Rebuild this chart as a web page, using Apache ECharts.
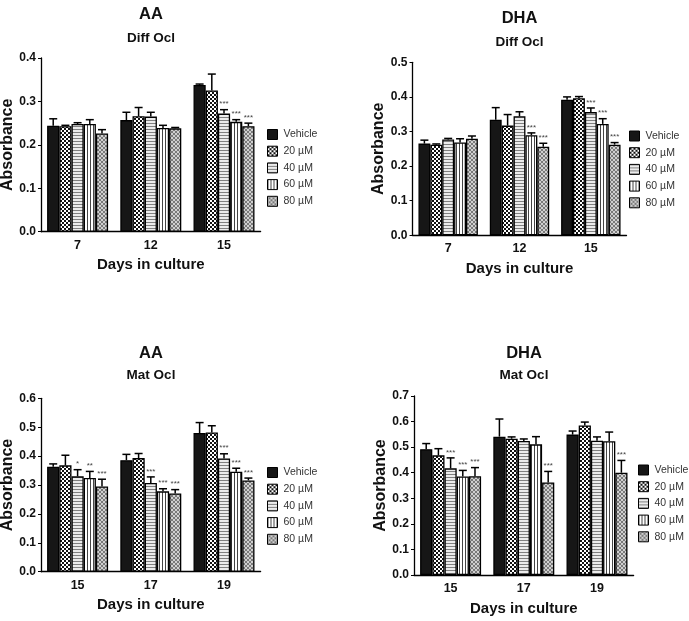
<!DOCTYPE html>
<html><head><meta charset="utf-8">
<script src="https://cdn.jsdelivr.net/npm/echarts@6/dist/echarts.min.js"></script>
<style>html,body{margin:0;padding:0;background:#fff}#c{width:689px;height:621px}</style>
</head><body><div id="c"></div>
<script>
// ---------- data ----------
const seriesNames = ['Vehicle', '20 µM', '40 µM', '60 µM', '80 µM'];
const diffDays = ['7', '12', '15'];
const matDays = ['15', '17', '19'];
const aaDiffTicks = [0, 0.1, 0.2, 0.3, 0.4];
const dhaDiffTicks = [0, 0.1, 0.2, 0.3, 0.4, 0.5];
const aaMatTicks = [0, 0.1, 0.2, 0.3, 0.4, 0.5, 0.6];
const dhaMatTicks = [0, 0.1, 0.2, 0.3, 0.4, 0.5, 0.6, 0.7];

// rows: Vehicle, 20, 40, 60, 80 µM ; columns: days
const aaDiffMean = [
  [0.244, 0.257, 0.338],
  [0.243, 0.266, 0.325],
  [0.248, 0.265, 0.272],
  [0.248, 0.239, 0.253],
  [0.226, 0.238, 0.243]];
const aaDiffSem = [
  [0.016, 0.018, 0.002],
  [0.002, 0.020, 0.038],
  [0.003, 0.010, 0.009],
  [0.010, 0.006, 0.005],
  [0.009, 0.002, 0.007]];
const aaDiffStars = [
  ['', '', ''], ['', '', ''], ['', '', '***'], ['', '', '***'], ['', '', '***']];

const dhaDiffMean = [
  [0.265, 0.334, 0.392],
  [0.262, 0.317, 0.396],
  [0.277, 0.344, 0.356],
  [0.268, 0.289, 0.322],
  [0.279, 0.256, 0.262]];
const dhaDiffSem = [
  [0.010, 0.035, 0.008],
  [0.002, 0.032, 0.005],
  [0.003, 0.013, 0.012],
  [0.011, 0.007, 0.015],
  [0.008, 0.010, 0.006]];
const dhaDiffStars = [
  ['', '', ''], ['', '', ''], ['', '', '***'], ['', '***', '***'], ['', '***', '***']];

const aaMatMean = [
  [0.363, 0.386, 0.480],
  [0.368, 0.393, 0.482],
  [0.330, 0.307, 0.392],
  [0.324, 0.278, 0.346],
  [0.295, 0.271, 0.316]];
const aaMatSem = [
  [0.010, 0.020, 0.036],
  [0.035, 0.016, 0.023],
  [0.023, 0.021, 0.016],
  [0.023, 0.009, 0.012],
  [0.025, 0.013, 0.008]];
const aaMatStars = [
  ['', '', ''], ['', '', ''], ['*', '***', '***'], ['**', '***', '***'], ['***', '***', '***']];

const dhaMatMean = [
  [0.492, 0.541, 0.549],
  [0.468, 0.533, 0.585],
  [0.417, 0.524, 0.525],
  [0.385, 0.511, 0.523],
  [0.386, 0.362, 0.400]];
const dhaMatSem = [
  [0.022, 0.069, 0.014],
  [0.026, 0.007, 0.013],
  [0.041, 0.008, 0.015],
  [0.024, 0.030, 0.036],
  [0.034, 0.043, 0.048]];
const dhaMatStars = [
  ['', '', ''], ['', '', ''], ['***', '', ''], ['***', '', ''], ['***', '***', '***']];

// ---------- styles ----------
const FONT = '"Liberation Sans", Arial, sans-serif';
function pat(w, h, draw) {
  const c = document.createElement('canvas'); c.width = w; c.height = h;
  const g = c.getContext('2d'); draw(g);
  return { image: c, repeat: 'repeat' };
}
const fills = [
  '#161616',
  pat(4, 4, g => { g.fillStyle = '#fff'; g.fillRect(0, 0, 4, 4); g.fillStyle = '#111'; g.fillRect(0, 0, 2, 2); g.fillRect(2, 2, 2, 2); }),
  pat(1, 3, g => { g.fillStyle = '#ececec'; g.fillRect(0, 0, 1, 3); g.fillStyle = '#808080'; g.fillRect(0, 0, 1, 1); }),
  pat(3, 1, g => { g.fillStyle = '#fff'; g.fillRect(0, 0, 3, 1); g.fillStyle = '#444'; g.fillRect(0, 0, 1, 1); }),
  pat(4, 4, g => { g.fillStyle = '#d0d0d0'; g.fillRect(0, 0, 4, 4); g.fillStyle = '#7a7a7a'; for (let i = 0; i < 4; i++) { g.fillRect(i, i, 1, 1); g.fillRect(i, 3 - i, 1, 1); } })
];

const GAP = 0.167;
const panels = [
  { mean: aaDiffMean, sem: aaDiffSem, stars: aaDiffStars, cats: diffDays, ticks: aaDiffTicks, title: 'AA', sub: 'Diff Ocl',
    grid: { left: 41, top: 58, width: 219.6, height: 173.7 }, legend: { left: 267, top: 129 }, tTop: 6, sTop: 31, cx: 151 },
  { mean: dhaDiffMean, sem: dhaDiffSem, stars: dhaDiffStars, cats: diffDays, ticks: dhaDiffTicks, title: 'DHA', sub: 'Diff Ocl',
    grid: { left: 412.5, top: 62.3, width: 214, height: 173 }, legend: { left: 629, top: 130.5 }, tTop: 10, sTop: 35, cx: 519.5 },
  { mean: aaMatMean, sem: aaMatSem, stars: aaMatStars, cats: matDays, ticks: aaMatTicks, title: 'AA', sub: 'Mat Ocl',
    grid: { left: 41, top: 398.3, width: 219.6, height: 173.4 }, legend: { left: 267, top: 467 }, tTop: 345, sTop: 368, cx: 151 },
  { mean: dhaMatMean, sem: dhaMatSem, stars: dhaMatStars, cats: matDays, ticks: dhaMatTicks, title: 'DHA', sub: 'Mat Ocl',
    grid: { left: 414, top: 396, width: 219.6, height: 179 }, legend: { left: 638, top: 464.5 }, tTop: 345, sTop: 368, cx: 524 }
];

const option = {
  backgroundColor: '#fff',
  animation: false,
  title: [], grid: [], xAxis: [], yAxis: [], legend: [], series: []
};

panels.forEach((p, pi) => {
  option.title.push({ text: p.title, left: p.cx, top: p.tTop, textAlign: 'center', padding: 0,
    textStyle: { fontFamily: FONT, fontSize: 16.5, fontWeight: 'bold', color: '#111' } });
  option.title.push({ text: p.sub, left: p.cx, top: p.sTop, textAlign: 'center', padding: 0,
    textStyle: { fontFamily: FONT, fontSize: 13.5, fontWeight: 'bold', color: '#111' } });
  option.grid.push(Object.assign({ outerBoundsMode: 'none', containLabel: false }, p.grid));
  option.xAxis.push({
    type: 'category', gridIndex: pi, data: p.cats,
    name: 'Days in culture', nameLocation: 'middle', nameGap: 26,
    nameTextStyle: { fontFamily: FONT, fontSize: 15, fontWeight: 'bold', color: '#111' },
    axisLine: { lineStyle: { color: '#000', width: 1.3 } },
    axisTick: { show: false },
    axisLabel: { fontFamily: FONT, fontSize: 12.5, fontWeight: 'bold', color: '#111', margin: 7 },
    splitLine: { show: false }
  });
  const t = p.ticks;
  option.yAxis.push({
    type: 'value', gridIndex: pi, min: t[0], max: t[t.length - 1], interval: t[1] - t[0],
    name: 'Absorbance', nameLocation: 'middle', nameGap: 22.5,
    nameTextStyle: { fontFamily: FONT, fontSize: 16, fontWeight: 'bold', color: '#111' },
    axisLine: { show: true, lineStyle: { color: '#000', width: 1.3 } },
    axisTick: { show: true, length: 3, lineStyle: { color: '#000', width: 1 } },
    axisLabel: { fontFamily: FONT, fontSize: 12, fontWeight: 'bold', color: '#111', margin: 5,
      formatter: v => v.toFixed(1) },
    splitLine: { show: false }
  });
  option.legend.push({
    orient: 'vertical', left: p.legend.left, top: p.legend.top, padding: 0,
    itemWidth: 10, itemHeight: 10, itemGap: 5.7, icon: 'rect',
    data: seriesNames,
    itemStyle: { borderColor: '#000', borderWidth: 1 },
    textStyle: { fontFamily: FONT, fontSize: 10.5, color: '#333', padding: [0, 0, 0, 1] }
  });
  seriesNames.forEach((name, k) => {
    option.series.push({
      type: 'bar', name, xAxisIndex: pi, yAxisIndex: pi,
      data: p.mean[k], barGap: '0%', barCategoryGap: (GAP * 100) + '%',
      itemStyle: { color: fills[k], borderColor: '#000', borderWidth: 1.3 },
      emphasis: { disabled: true }
    });
  });
  seriesNames.forEach((name, k) => {
    const stars = p.stars[k];
    option.series.push({
      type: 'custom', name: 'err-' + pi + '-' + k, xAxisIndex: pi, yAxisIndex: pi, z: 5,
      data: p.mean[k].map((m, ci) => [ci, m, p.sem[k][ci]]),
      encode: { x: 0, y: 1 },
      renderItem: (params, api) => {
        const ci = api.value(0), m = api.value(1), s = api.value(2);
        const base = api.coord([ci, m]);
        const top = api.coord([ci, m + s]);
        const band = api.size([1, 0])[0];
        const bw = band * (1 - GAP) / 5;
        const x = base[0] + (k - 2) * bw;
        const children = [
          { type: 'line', shape: { x1: x, y1: base[1], x2: x, y2: top[1] }, style: { stroke: '#000', lineWidth: 1.5 } },
          { type: 'line', shape: { x1: x - 4, y1: top[1], x2: x + 4, y2: top[1] }, style: { stroke: '#000', lineWidth: 1.5 } }
        ];
        const st = stars[params.dataIndex];
        if (st) children.push({ type: 'text', x: x, y: top[1] - 1.5,
          style: { text: st, fontFamily: FONT, fontSize: 8, fill: '#444', align: 'center', verticalAlign: 'bottom' } });
        return { type: 'group', children };
      }
    });
  });
});

const chart = echarts.init(document.getElementById('c'), null, { renderer: 'canvas' });
chart.setOption(option);
</script>
</body></html>
